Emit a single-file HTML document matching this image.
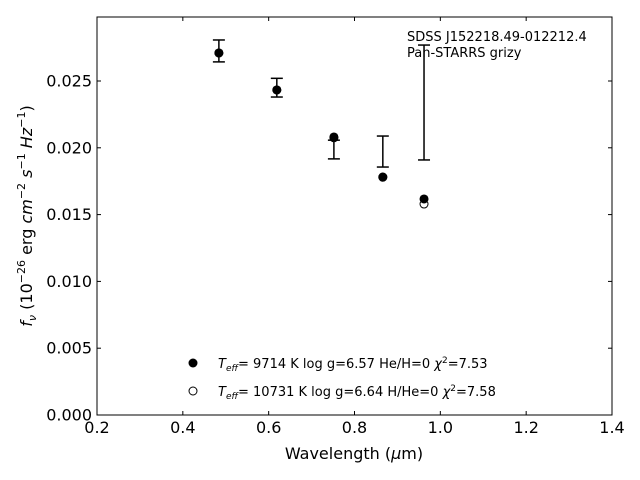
<!DOCTYPE html>
<html><head><meta charset="utf-8"><style>
body{margin:0;background:#fff}
svg{display:block;font-family:"DejaVu Sans","Liberation Sans",sans-serif}
</style></head><body>
<svg id="c" width="640" height="480" viewBox="0 0 640 480"></svg>
<script>
const wavelengths=[0.484,0.619,0.752,0.866,0.962];
const obsFlux=[0.02725,0.0245,0.01987,0.01972,0.02339];
const obsErr=[0.00082,0.0007,0.0007,0.00116,0.0043];
const modelA=[0.0271,0.02433,0.02081,0.01781,0.01617];
const modelB=[0.0271,0.02433,0.02075,0.0178,0.01579];
const xTicks=[0.2,0.4,0.6,0.8,1.0,1.2,1.4];
const xTickLabels=["0.2","0.4","0.6","0.8","1.0","1.2","1.4"];
const yTicks=[0,0.005,0.01,0.015,0.02,0.025];
const yTickLabels=["0.000","0.005","0.010","0.015","0.020","0.025"];

const L=97,R=612,T=17,B=415,xmin=0.2,xmax=1.4,ymin=0,ymax=0.02979;
const X=v=>L+(v-xmin)/(xmax-xmin)*(R-L);
const Y=v=>B-(v-ymin)/(ymax-ymin)*(B-T);
const svg=document.getElementById('c');
const NS='http://www.w3.org/2000/svg';
function mk(tag,attrs,parent){const e=document.createElementNS(NS,tag);for(const k in attrs)e.setAttribute(k,attrs[k]);(parent||svg).appendChild(e);return e;}

let frame=mk('rect',{x:L,y:T,width:R-L,height:B-T,fill:'none',stroke:'#000','stroke-width':1});



xTicks.forEach((t,i)=>{
  const x=X(t);
  mk('line',{x1:x,x2:x,y1:B,y2:B-4,stroke:'#000'});
  mk('line',{x1:x,x2:x,y1:T,y2:T+4,stroke:'#000'});
  const tx=mk('text',{x:x,y:B+18,'font-size':16,'text-anchor':'middle'});
  tx.textContent=xTickLabels[i];
  
  
});
yTicks.forEach((t,i)=>{
  const y=Y(t);
  mk('line',{x1:L,x2:L+4,y1:y,y2:y,stroke:'#000'});
  mk('line',{x1:R,x2:R-4,y1:y,y2:y,stroke:'#000'});
  const tx=mk('text',{x:L-5,y:y+5.5,'font-size':16,'text-anchor':'end'});
  tx.textContent=yTickLabels[i];
  
  
});

wavelengths.forEach((w,i)=>{
  const g=mk('g',{});
  
  
  const x=X(w),y1=Y(obsFlux[i]+obsErr[i]),y2=Y(obsFlux[i]-obsErr[i]);
  mk('line',{x1:x,x2:x,y1:y1,y2:y2,stroke:'#000','stroke-width':1.5},g);
  mk('line',{x1:x-6,x2:x+6,y1:y1,y2:y1,stroke:'#000','stroke-width':1.5},g);
  mk('line',{x1:x-6,x2:x+6,y1:y2,y2:y2,stroke:'#000','stroke-width':1.5},g);
});
wavelengths.forEach((w,i)=>{
  const c=mk('circle',{cx:X(w),cy:Y(modelB[i]),r:4,fill:'#fff',stroke:'#000','stroke-width':1});
  
  
});
wavelengths.forEach((w,i)=>{
  const c=mk('circle',{cx:X(w),cy:Y(modelA[i]),r:4.5,fill:'#000'});
  
  
});
</script>
<svg width="640" height="480" style="position:absolute;left:0;top:0" font-family="DejaVu Sans, Liberation Sans, sans-serif">
<text x="407" y="41" font-size="13">SDSS J152218.49-012212.4</text>
<text x="407" y="57" font-size="13">Pan-STARRS grizy</text>
<g>
<circle cx="193" cy="363" r="4.5" fill="#000"/>
<text x="218" y="368" font-size="13"><tspan font-style="italic">T</tspan><tspan font-style="italic" font-size="9" dy="3">eff</tspan><tspan dy="-3">=  9714 K  log g=6.57  He/H=0  </tspan><tspan font-style="italic">χ</tspan><tspan font-size="9" dy="-5">2</tspan><tspan dy="5">=7.53</tspan></text>
<circle cx="193" cy="391" r="4" fill="#fff" stroke="#000"/>
<text x="218" y="396" font-size="13"><tspan font-style="italic">T</tspan><tspan font-style="italic" font-size="9" dy="3">eff</tspan><tspan dy="-3">= 10731 K  log g=6.64  H/He=0  </tspan><tspan font-style="italic">χ</tspan><tspan font-size="9" dy="-5">2</tspan><tspan dy="5">=7.58</tspan></text>
</g>
<text x="354" y="459" font-size="16" text-anchor="middle">Wavelength (<tspan font-style="italic">μ</tspan>m)</text>
<text transform="translate(32,216) rotate(-90)" font-size="16" text-anchor="middle"><tspan font-style="italic">f</tspan><tspan font-style="italic" font-size="11" dy="4">ν</tspan><tspan dy="-4"> (10</tspan><tspan font-size="11" dy="-7">−26</tspan><tspan dy="7"> erg </tspan><tspan font-style="italic">cm</tspan><tspan font-size="11" dy="-7">−2</tspan><tspan dy="7"> </tspan><tspan font-style="italic">s</tspan><tspan font-size="11" dy="-7">−1</tspan><tspan dy="7"> </tspan><tspan font-style="italic">Hz</tspan><tspan font-size="11" dy="-7">−1</tspan><tspan dy="7">)</tspan></text>
</svg>
</body></html>
